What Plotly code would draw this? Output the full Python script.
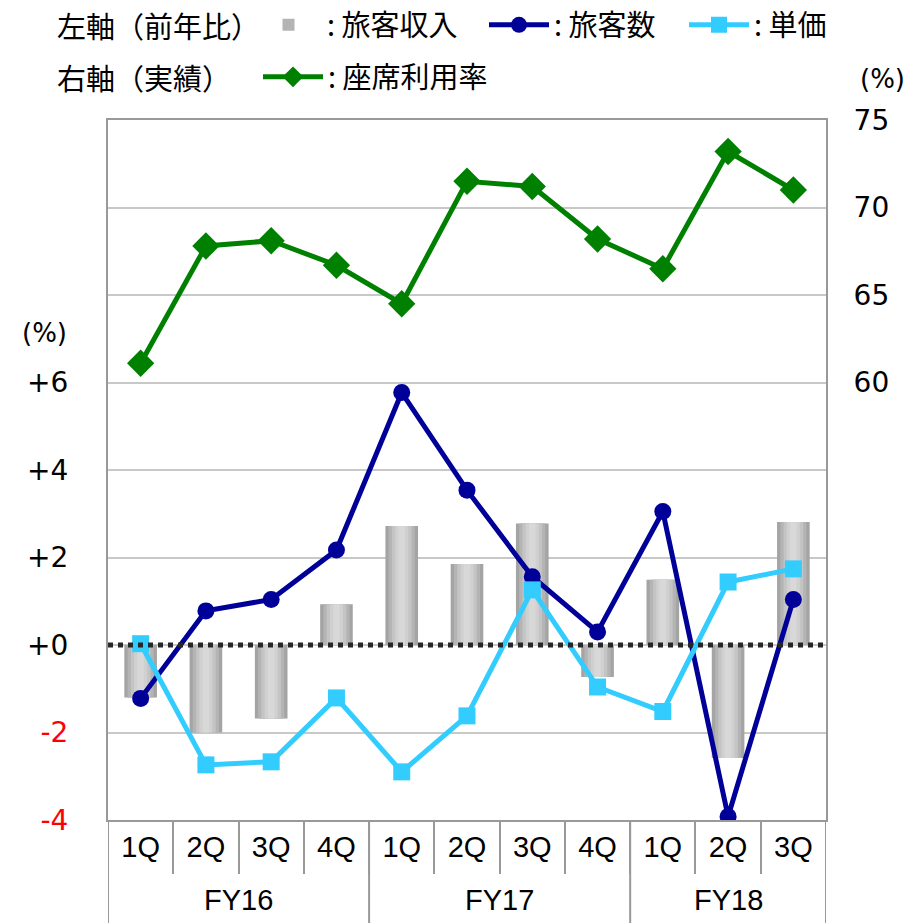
import plotly.graph_objects as go

# categories
fiscal_years = ["FY16"] * 4 + ["FY17"] * 4 + ["FY18"] * 3
quarters = ["1Q", "2Q", "3Q", "4Q", "1Q", "2Q", "3Q", "4Q", "1Q", "2Q", "3Q"]

# left axis, year-on-year change (%)
revenue = [-1.2, -2.0, -1.68, 0.93, 2.72, 1.85, 2.78, -0.73, 1.49, -2.58, 2.81]
passengers = [-1.22, 0.78, 1.04, 2.17, 5.77, 3.54, 1.56, 0.3, 3.05, -3.92, 1.04]
unit_price = [0.03, -2.74, -2.67, -1.21, -2.9, -1.62, 1.26, -0.96, -1.52, 1.44, 1.74]

# right axis, actual (%)
load_factor = [61.1, 67.8, 68.1, 66.7, 64.5, 71.5, 71.2, 68.2, 66.5, 73.2, 71.0]

left_ticks = [-4, -2, 0, 2, 4, 6]
left_ticktext = [
    "<span style='color:#ff0000'>-4</span>",
    "<span style='color:#ff0000'>-2</span>",
    "+0", "+2", "+4", "+6",
]
right_ticks = [60, 65, 70, 75]

NAVY = "#000099"
SKY = "#33ccff"
GREEN = "#008000"
GRID = "#c8c8c8"
BORDER = "#999999"
CJK = "Noto Sans CJK JP, sans-serif"
NUM = "DejaVu Sans, sans-serif"
LAT = "Liberation Sans, Arial, sans-serif"

W, H = 921, 923
M = {"l": 108, "r": 95, "t": 120, "b": 103}
PLOT_W = W - M["l"] - M["r"]
PLOT_H = H - M["t"] - M["b"]


def px_x(screen_x):
    return (screen_x - M["l"]) / PLOT_W


def px_y(screen_y):
    return (H - M["b"] - screen_y) / PLOT_H


xs = list(range(len(quarters)))

fig = go.Figure()

# bars drawn as stacked overlays to fake the grey cylinder gradient
bar_layers = [
    (0.50, "#a4a4a4"),
    (0.40, "#b4b4b4"),
    (0.30, "#c4c4c4"),
    (0.20, "#d0d0d0"),
    (0.10, "#d8d8d8"),
]
for i, (width, color) in enumerate(bar_layers):
    fig.add_trace(
        go.Bar(
            x=xs,
            y=revenue,
            width=width,
            marker={"color": color, "line": {"width": 0}},
            name=": 旅客収入",
            showlegend=i == 1,
            legend="legend",
            hoverinfo="skip" if i else None,
        )
    )

fig.add_trace(
    go.Scatter(
        x=xs,
        y=passengers,
        mode="lines+markers",
        line={"color": NAVY, "width": 5},
        marker={"color": NAVY, "size": 17, "symbol": "circle"},
        name=": 旅客数",
        legend="legend2",
    )
)
fig.add_trace(
    go.Scatter(
        x=xs,
        y=unit_price,
        mode="lines+markers",
        line={"color": SKY, "width": 5},
        marker={"color": SKY, "size": 17, "symbol": "square"},
        name=": 単価",
        legend="legend3",
    )
)
fig.add_trace(
    go.Scatter(
        x=xs,
        y=load_factor,
        yaxis="y2",
        mode="lines+markers",
        line={"color": GREEN, "width": 5},
        marker={"color": GREEN, "size": 21, "symbol": "diamond"},
        name=": 座席利用率",
        legend="legend4",
    )
)

# dotted zero line
fig.add_shape(
    type="line", xref="paper", yref="y", x0=0, x1=1, y0=0, y1=0,
    line={"color": "#262626", "width": 5, "dash": "dot"}, layer="above",
)

# fiscal-year group labels and dividers below the quarter labels
bounds = [-0.5]
for i in range(1, len(fiscal_years)):
    if fiscal_years[i] != fiscal_years[i - 1]:
        bounds.append(i - 0.5)
bounds.append(len(fiscal_years) - 0.5)
for b in bounds:
    fig.add_shape(
        type="line", xref="x", yref="paper", x0=b, x1=b, y0=0, y1=-M["b"] / PLOT_H,
        line={"color": BORDER, "width": 2},
    )
for lo, hi in zip(bounds[:-1], bounds[1:]):
    fig.add_annotation(
        text=fiscal_years[int(lo + 0.5)], xref="x", yref="paper",
        x=(lo + hi) / 2, y=px_y(900), yanchor="middle",
        showarrow=False, font={"family": LAT, "size": 29, "color": "#000000"},
    )

# axis unit labels
for sx, sy in [(44, 333), (882, 79)]:
    fig.add_annotation(
        text="(%)", xref="paper", yref="paper", x=px_x(sx), y=px_y(sy),
        xanchor="center", yanchor="middle",
        showarrow=False, font={"family": NUM, "size": 26, "color": "#000000"},
    )

# legend row titles
for text, sy in [("左軸（前年比）", 25), ("右軸（実績）", 77)]:
    fig.add_annotation(
        text=text, xref="paper", yref="paper", x=px_x(55), xanchor="left",
        y=px_y(sy), yanchor="middle",
        showarrow=False, font={"family": CJK, "size": 29, "color": "#000000"},
    )


def legend_at(sx, sy, itemwidth):
    return {
        "orientation": "h",
        "x": px_x(sx),
        "xanchor": "left",
        "y": px_y(sy),
        "yanchor": "middle",
        "font": {"family": CJK, "size": 29, "color": "#000000"},
        "bgcolor": "rgba(0,0,0,0)",
        "itemwidth": itemwidth,
        "borderwidth": 0,
    }


fig.update_layout(
    width=W,
    height=H,
    barmode="overlay",
    paper_bgcolor="#ffffff",
    plot_bgcolor="#ffffff",
    margin={**M, "autoexpand": False},
    font={"family": CJK, "size": 24, "color": "#000000"},
    showlegend=True,
    legend=legend_at(250, 25, 67),
    legend2=legend_at(484, 25, 60),
    legend3=legend_at(684, 25, 60),
    legend4=legend_at(258, 77, 60),
    xaxis={
        "range": [-0.5, len(quarters) - 0.5],
        "tickvals": xs,
        "ticktext": quarters,
        "ticks": "",
        "ticklabelstandoff": 0,
        "tickfont": {"family": LAT, "size": 29},
        "showline": True,
        "linecolor": BORDER,
        "linewidth": 2,
        "mirror": True,
        "showgrid": False,
        "zeroline": False,
        "minor": {
            "tickvals": [i + 0.5 for i in xs[:-1]],
            "ticks": "outside",
            "ticklen": 52,
            "tickcolor": BORDER,
            "tickwidth": 2,
            "showgrid": False,
        },
    },
    yaxis={
        "range": [-4, 12],
        "tickvals": left_ticks,
        "ticktext": left_ticktext,
        "tickfont": {"family": NUM, "size": 28},
        "showgrid": True,
        "gridcolor": GRID,
        "gridwidth": 2,
        "zeroline": False,
        "showline": True,
        "linecolor": BORDER,
        "linewidth": 2,
        "ticks": "",
        "ticklabelstandoff": 32,
    },
    yaxis2={
        "range": [35, 75],
        "overlaying": "y",
        "side": "right",
        "tickvals": right_ticks,
        "tickfont": {"family": NUM, "size": 28},
        "showgrid": True,
        "gridcolor": GRID,
        "gridwidth": 2,
        "zeroline": False,
        "showline": True,
        "linecolor": BORDER,
        "linewidth": 2,
        "ticks": "",
        "ticklabelstandoff": 20,
    },
)

# drop the browser's default 8px body margin so the figure sits at the window corner
fig.write_html(
    "out.html",
    config={"displayModeBar": False},
    post_script="document.body.style.margin = '0';",
)
